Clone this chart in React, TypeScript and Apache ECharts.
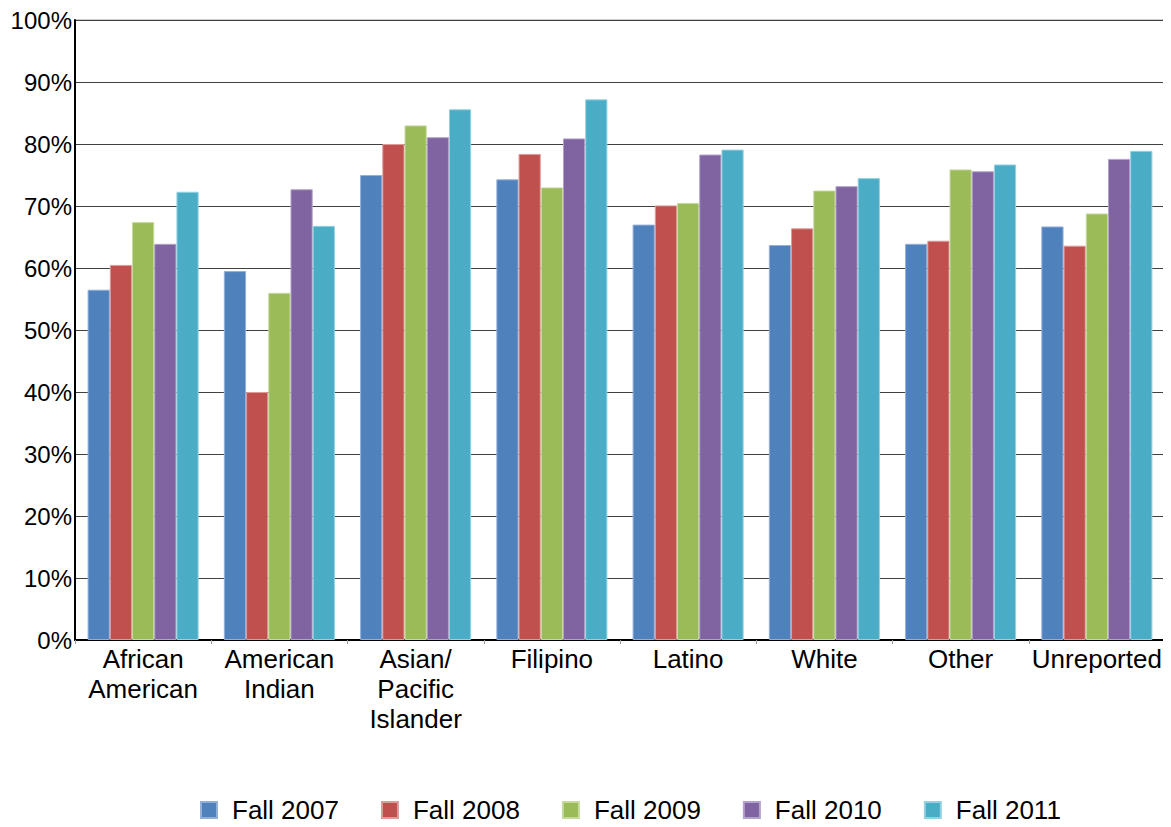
import React, { useEffect, useRef } from "react";
import * as echarts from "echarts";

const categories = [
  "African\nAmerican",
  "American\nIndian",
  "Asian/\nPacific\nIslander",
  "Filipino",
  "Latino",
  "White",
  "Other",
  "Unreported",
];

const seriesNames = ["Fall 2007", "Fall 2008", "Fall 2009", "Fall 2010", "Fall 2011"];

const fall2007 = [56.5, 59.5, 75.0, 74.3, 67.0, 63.7, 63.9, 66.7];
const fall2008 = [60.5, 40.0, 80.0, 78.4, 70.1, 66.4, 64.4, 63.6];
const fall2009 = [67.4, 56.0, 83.0, 73.0, 70.5, 72.5, 75.9, 68.8];
const fall2010 = [63.9, 72.7, 81.1, 80.9, 78.3, 73.2, 75.6, 77.6];
const fall2011 = [72.3, 66.8, 85.6, 87.2, 79.1, 74.5, 76.7, 78.9];

const seriesValues = [fall2007, fall2008, fall2009, fall2010, fall2011];

const colors = ["#4F81BD", "#C0504D", "#9BBB59", "#8064A2", "#4BACC6"];
const borderColors = ["#93AFD8", "#DC9C9A", "#C6DA9E", "#B3A2C9", "#93D2E2"];

const FONT = "'Liberation Sans', Arial, sans-serif";

export default function App() {
  const ref = useRef<HTMLDivElement>(null);

  useEffect(() => {
    if (!ref.current) return;
    const chart = echarts.init(ref.current, undefined, { renderer: "svg" });
    chart.setOption({
      animation: false,
      backgroundColor: "#ffffff",
      grid: {
        left: 75,
        right: 6,
        top: 20,
        bottom: 187,
        show: true,
        borderColor: "#999999",
        borderWidth: 1,
      },
      legend: {
        left: 195,
        top: 786,
        itemWidth: 16,
        itemHeight: 16,
        itemGap: 42,
        icon: "rect",
        data: seriesNames,
        textStyle: {
          fontFamily: FONT,
          fontSize: 26,
          lineHeight: 26,
          color: "#000000",
          padding: [12, 0, 0, 10],
        },
      },
      xAxis: {
        type: "category",
        data: categories,
        axisLine: { show: true, lineStyle: { color: "#000000", width: 2 } },
        axisTick: { show: true, length: 4, lineStyle: { color: "#999999" } },
        axisLabel: {
          fontFamily: FONT,
          fontSize: 26,
          color: "#000000",
          lineHeight: 30,
          margin: 4,
          interval: 0,
        },
        splitLine: { show: false },
      },
      yAxis: {
        type: "value",
        min: 0,
        max: 100,
        interval: 10,
        axisLine: { show: true, lineStyle: { color: "#000000", width: 2 } },
        axisTick: { show: false },
        axisLabel: {
          fontFamily: FONT,
          fontSize: 24,
          color: "#000000",
          margin: 3,
          formatter: (v: number) => v + "%",
        },
        splitLine: { show: true, lineStyle: { color: "#404040", width: 1 } },
      },
      series: seriesNames.map((name, i) => ({
        name,
        type: "bar",
        data: seriesValues[i],
        barGap: "0%",
        barCategoryGap: "18.5%",
        itemStyle: {
          color: colors[i],
          borderColor: borderColors[i],
          borderWidth: 1,
        },
      })),
    });
    return () => chart.dispose();
  }, []);

  return <div ref={ref} style={{ width: 1171, height: 827, margin: -8 }} />;
}
